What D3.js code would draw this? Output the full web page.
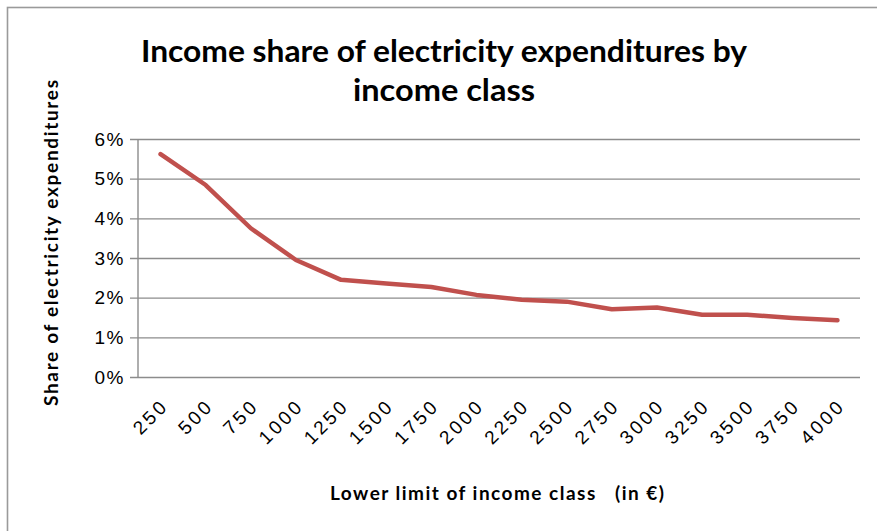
<!DOCTYPE html>
<html>
<head>
<meta charset="utf-8">
<script src="https://cdn.jsdelivr.net/npm/d3@7"></script>
<style>
  html, body { margin: 0; padding: 0; background: #fff; }
  svg { display: block; font-family: Lato, Carlito, Calibri, "Open Sans", sans-serif; }
</style>
</head>
<body>
<svg id="chart" width="877" height="531"></svg>
<script>
// Income classes (lower limit, €)
const incomeClasses = ["250", "500", "750", "1000", "1250", "1500", "1750", "2000",
                       "2250", "2500", "2750", "3000", "3250", "3500", "3750", "4000"];
// Share of income spent on electricity (%)
const electricityShare = [5.62, 4.84, 3.75, 2.95, 2.45, 2.36, 2.27, 2.07,
                          1.95, 1.90, 1.71, 1.75, 1.57, 1.57, 1.49, 1.43];
// Y axis tick values (%)
const yTicks = [0, 1, 2, 3, 4, 5, 6];

const titleLines = ["Income share of electricity expenditures by", "income class"];
const yTitle = "Share of electricity expenditures";
const xTitle = "Lower limit of income class\u00A0\u00A0\u00A0(in €)";

const svg = d3.select("#chart");
const W = 877, H = 531;
const plot = { left: 138, right: 860, top: 139, bottom: 377 };

// Outer chart frame
svg.append("rect")
  .attr("x", 7.5).attr("y", 7.5)
  .attr("width", W + 20).attr("height", H + 20)
  .attr("fill", "#fff")
  .attr("stroke", "#9a9a9a").attr("stroke-width", 1.6);

const x = d3.scaleBand()
  .domain(incomeClasses)
  .range([plot.left, plot.right]);

const y = d3.scaleLinear()
  .domain([0, 6])
  .range([plot.bottom, plot.top]);

// Horizontal gridlines + y axis with outward ticks
const yAxis = d3.axisLeft(y)
  .tickValues(yTicks)
  .tickSize(plot.right - plot.left + 8)
  .tickPadding(5)
  .tickFormat(d => d + "%");

const gy = svg.append("g")
  .attr("transform", `translate(${plot.right},0)`)
  .call(yAxis);
gy.select(".domain").remove();
gy.selectAll(".tick line")
  .attr("stroke", "#8c8c8c").attr("stroke-width", 1.4);
gy.selectAll(".tick text")
  .attr("font-size", 19).attr("fill", "#000")
  .attr("letter-spacing", 1.5);

// Vertical axis line
svg.append("line")
  .attr("x1", plot.left).attr("x2", plot.left)
  .attr("y1", plot.top).attr("y2", plot.bottom)
  .attr("stroke", "#8c8c8c").attr("stroke-width", 1.4);

// Category axis labels (rotated)
const xAxis = d3.axisBottom(x).tickSize(0).tickPadding(0);
const gx = svg.append("g")
  .attr("transform", `translate(0,${plot.bottom})`)
  .call(xAxis);
gx.select(".domain").remove();
gx.selectAll(".tick text")
  .attr("font-size", 19).attr("fill", "#000")
  .attr("letter-spacing", 3)
  .attr("text-anchor", "end")
  .attr("dy", 0)
  .attr("transform", "translate(9,30) rotate(-45)");

// Data line
const line = d3.line()
  .x((d, i) => x(incomeClasses[i]) + x.bandwidth() / 2)
  .y(d => y(d));

svg.append("path")
  .datum(electricityShare)
  .attr("d", line)
  .attr("fill", "none")
  .attr("stroke", "#C0504D")
  .attr("stroke-width", 4.5)
  .attr("stroke-linejoin", "round")
  .attr("stroke-linecap", "round");

// Chart title
svg.append("text")
  .attr("x", 444).attr("y", 62)
  .attr("text-anchor", "middle")
  .attr("font-size", 31).attr("font-weight", "bold")
  .attr("textLength", 606).attr("lengthAdjust", "spacingAndGlyphs")
  .text(titleLines[0]);
svg.append("text")
  .attr("x", 444).attr("y", 101)
  .attr("text-anchor", "middle")
  .attr("font-size", 31).attr("font-weight", "bold")
  .attr("textLength", 182).attr("lengthAdjust", "spacingAndGlyphs")
  .text(titleLines[1]);

// Axis titles
svg.append("text")
  .attr("transform", "translate(58,243) rotate(-90)")
  .attr("text-anchor", "middle")
  .attr("font-size", 19).attr("font-weight", "bold")
  .attr("textLength", 326).attr("lengthAdjust", "spacing")
  .text(yTitle);

svg.append("text")
  .attr("x", 497).attr("y", 500)
  .attr("text-anchor", "middle")
  .attr("font-size", 19).attr("font-weight", "bold")
  .attr("textLength", 334).attr("lengthAdjust", "spacing")
  .attr("xml:space", "preserve")
  .text(xTitle);
</script>
</body>
</html>
